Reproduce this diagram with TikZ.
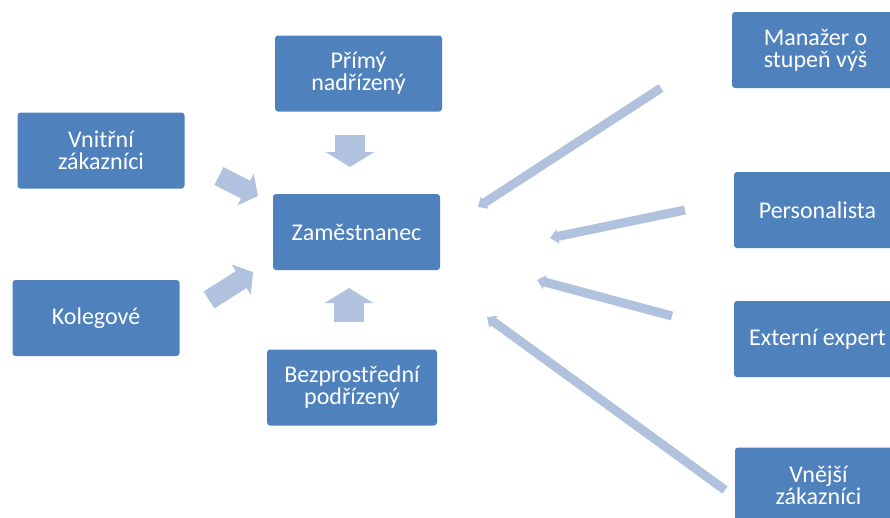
\documentclass[tikz,border=0pt]{standalone}
\usepackage{fontspec}
\setmainfont{Carlito}
\usetikzlibrary{arrows.meta}

\definecolor{boxblue}{HTML}{4F81BD}
\definecolor{arrowblue}{HTML}{B0C2DE}

\begin{document}
\begin{tikzpicture}[
        x=1pt, y=-1pt,
        box/.style={fill=boxblue, rounded corners=3pt, minimum width=167pt, minimum height=76pt,
            inner sep=0pt, align=center, text=white, font=\fontsize{24}{22}\selectfont},
        bigarrow/.style={arrowblue, line width=30pt, -{Triangle[width=48pt,length=15pt]}},
        diagarrow/.style={arrowblue, line width=20pt, -{Triangle[width=35pt,length=14pt]}},
        thinarrow/.style={arrowblue, line width=9pt, -{Triangle[width=14pt,length=8pt]}}
    ]
    \useasboundingbox (0,0) rectangle (890,517);
    \clip (0,0) rectangle (890,517);

    \node[box] (prim) at (358.5,73.5) {Přímý\\nadřízený};
    \node[box] (vnitr) at (101,150.5) {Vnitřní\\zákazníci};
    \node[box] (zam) at (356.5,232) {Zaměstnanec};
    \node[box] (koleg) at (96,318) {Kolegové};
    \node[box, minimum width=170pt] (bezpr) at (352,387.5) {Bezprostřední\\podřízený};

    \node[box] (manaz) at (815.5,50) {Manažer o\\stupeň výš};
    \node[box] (pers) at (817.5,210) {Personalista};
    \node[box] (extern) at (817.5,339) {Externí expert};
    \node[box] (vnejsi) at (818.5,485.5) {Vnější\\zákazníci};

    \coordinate (primend) at (350,135);
    \coordinate (primtip) at (350,167);
    \coordinate (bezprend) at (349,322);
    \coordinate (bezprtip) at (349,288);
    \coordinate (vnitrend) at (219,176);
    \coordinate (vnitrtip) at (258,196);
    \coordinate (kolegend) at (209,300);
    \coordinate (kolegtip) at (253,272);

    \coordinate (manazend) at (661,88);
    \coordinate (manaztip) at (478,207);
    \coordinate (persend) at (685,210);
    \coordinate (perstip) at (550,238);
    \coordinate (externend) at (672,316);
    \coordinate (externtip) at (537,280);
    \coordinate (vnejsiend) at (725,490);
    \coordinate (vnejsitip) at (487,317);

    \draw[bigarrow] (primend) -- (primtip);
    \draw[bigarrow] (bezprend) -- (bezprtip);
    \draw[diagarrow] (vnitrend) -- (vnitrtip);
    \draw[diagarrow] (kolegend) -- (kolegtip);

    \draw[thinarrow] (manazend) -- (manaztip);
    \draw[thinarrow] (persend) -- (perstip);
    \draw[thinarrow] (externend) -- (externtip);
    \draw[thinarrow] (vnejsiend) -- (vnejsitip);

\end{tikzpicture}
\end{document}
